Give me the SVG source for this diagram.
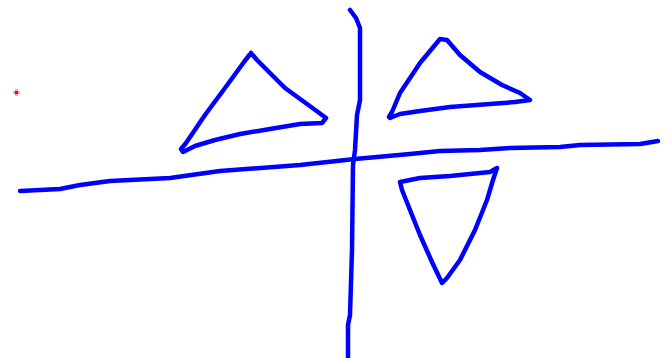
<svg xmlns="http://www.w3.org/2000/svg" width="670" height="358" viewBox="0 0 670 358">
<style>
.s{fill:none;stroke:#0000ff;stroke-width:4.5;stroke-linecap:round;stroke-linejoin:round}
</style>
<rect width="670" height="358" fill="#ffffff"/>
<g id="dot"><rect x="15" y="91" width="3" height="3" fill="#ff0000"/><rect x="13" y="91" width="7" height="3" fill="#ff0000" opacity="0.35"/><rect x="15" y="89" width="3" height="7" fill="#ff0000" opacity="0.35"/></g>
<g id="vertical-line"><polyline class="s" points="350,10 356,18 360,28 360,100 357,115 355,150 353,165 352,250 350,315 348,325 348,357"/></g>
<g id="horizontal-line"><polyline class="s" points="20,191 60,189 80,185 110,181 170,178 220,171 300,165 355,159 410,154 440,151 480,150 510,148 560,147 580,145 640,144 658,141"/></g>
<g id="triangle-left"><polyline class="s" points="251,53 257,60 285,88 318,112 326,118 322,123 300,124 270,129 240,134 215,140 195,146 183,152 181,149 186,143 205,115 225,88 244,62 251,53"/></g>
<g id="triangle-upper-right"><polyline class="s" points="389,117 392,112 400,93 420,63 440,39 447,40 460,55 480,72 502,85 520,93 530,100 515,102 490,104 450,107 420,111 400,114 390,118"/></g>
<g id="triangle-lower"><polyline class="s" points="497,168 490,172 450,176 420,178 400,182 402,190 410,210 420,235 432,262 442,283 447,278 460,260 475,230 487,200 493,180 497,168"/></g>
</svg>
